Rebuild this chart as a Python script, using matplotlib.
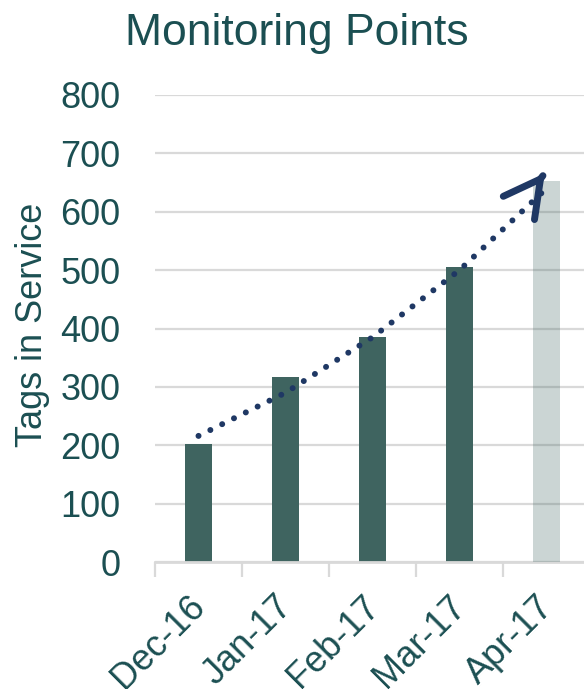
import matplotlib.pyplot as plt
import matplotlib.transforms as mtransforms
import numpy as np

# datos
meses = ['Dec-16', 'Jan-17', 'Feb-17', 'Mar-17', 'Apr-17']
etiquetas = [202, 317, 385, 505, 653]
tendencia = [216, 290, 385, 500, 640]
punta_flecha = 670

color_barra = '#3f6460'
color_texto = '#1b4f52'
color_linea = '#1f3864'
color_grid = '#d9d9d9'

plt.rcParams['font.family'] = ['Liberation Sans', 'DejaVu Sans']

fig = plt.figure(figsize=(5.84, 6.89), dpi=100)
ax = fig.add_axes([155 / 584, 127 / 689, 435 / 584, 467 / 689])

x = np.arange(len(meses))
ax.bar(x[:4], etiquetas[:4], width=0.31, color=color_barra, zorder=2)
ax.bar(x[4:], etiquetas[4:], width=0.31, color=color_barra, alpha=0.27, zorder=3)

# linea de tendencia punteada
ax.plot(x, tendencia, color=color_linea, linewidth=4.3,
        linestyle=(0, (0.01, 2.2)), dash_capstyle='round', zorder=4)
ax.annotate('', xy=(x[-1], punta_flecha), xytext=(x[-1] - 0.06, punta_flecha - 12),
            arrowprops=dict(arrowstyle='->, head_length=2.6, head_width=1.4',
                            color=color_linea, lw=5, mutation_scale=10,
                            capstyle='round', joinstyle='miter'),
            zorder=5)

ax.set_xlim(-0.5, 4.5)
ax.set_ylim(0, 800)
ax.set_yticks(range(0, 801, 100))
ax.yaxis.grid(True, color=color_grid, linewidth=1.6, zorder=0)
ax.set_axisbelow(True)

# marcas entre categorias, etiquetas escritas a mano
ax.set_xticks(np.arange(-0.5, 4.6, 1.0))
ax.set_xticklabels([])
ax.tick_params(axis='x', length=11, width=1.6, color=color_grid)
desplazar = mtransforms.ScaledTranslation(-11 / 100, -27 / 100, fig.dpi_scale_trans)
for pos, mes in zip(x, meses):
    ax.text(pos, 0, mes, transform=ax.get_xaxis_transform() + desplazar,
            rotation=45, ha='right', va='top', rotation_mode='anchor',
            fontsize=26, color=color_texto, clip_on=False)

ax.tick_params(axis='y', length=0, pad=25, labelsize=26, labelcolor=color_texto)

for lado in ['top', 'right', 'left']:
    ax.spines[lado].set_visible(False)
ax.spines['bottom'].set_color(color_grid)
ax.spines['bottom'].set_linewidth(2)

ax.set_ylabel('Tags in Service', fontsize=26, color=color_texto)
ax.yaxis.set_label_coords(50 / 584, 364 / 689, transform=fig.transFigure)
fig.text(0.509, 0.952, 'Monitoring Points', ha='center', va='center',
         fontsize=32, color=color_texto)

plt.savefig('out.png', dpi=100)
